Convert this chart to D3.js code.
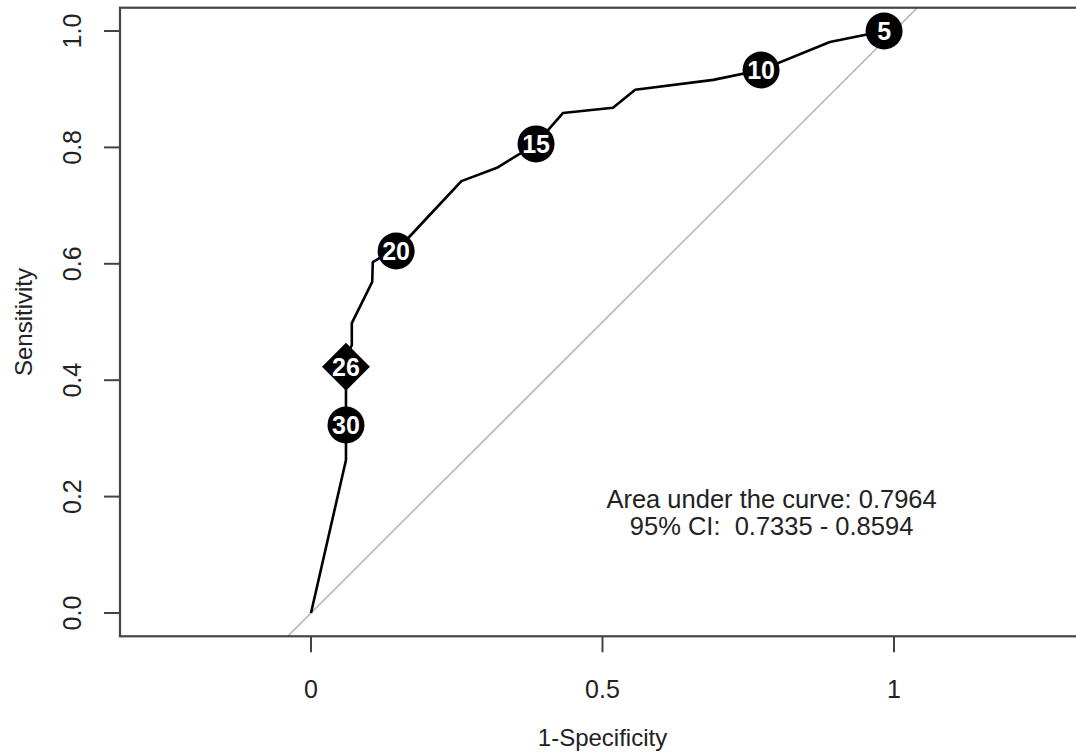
<!DOCTYPE html>
<html>
<head>
<meta charset="utf-8">
<script src="https://cdn.jsdelivr.net/npm/d3@7"></script>
<style>
  body { margin: 0; background: #fff; }
  svg { display: block; font-family: "Liberation Sans", Arial, sans-serif; }
  text { white-space: pre; }
</style>
</head>
<body>
<svg width="1076" height="755"></svg>
<script>
// ROC curve vertices (1-specificity, sensitivity)
var fpr = [0, 0.060, 0.060, 0.060, 0.060, 0.070, 0.070, 0.105, 0.106, 0.118, 0.146, 0.200, 0.258, 0.319, 0.386, 0.432, 0.518, 0.556, 0.690, 0.772, 0.890, 0.983];
var tpr = [0, 0.263, 0.323, 0.423, 0.440, 0.460, 0.498, 0.569, 0.603, 0.610, 0.622, 0.680, 0.742, 0.765, 0.806, 0.859, 0.868, 0.899, 0.916, 0.933, 0.981, 1.000];

// labelled cut-offs
var cutLabels = ["5", "10", "15", "20", "30"];
var cutX = [0.983, 0.772, 0.386, 0.146, 0.060];
var cutY = [1.000, 0.933, 0.806, 0.622, 0.323];

// best threshold (diamond)
var bestLabel = "26", bestX = 0.060, bestY = 0.423;

var xTicks = [0, 0.5, 1];
var xTickLabels = ["0", "0.5", "1"];
var yTicks = [0, 0.2, 0.4, 0.6, 0.8, 1.0];
var aucText = ["Area under the curve: 0.7964", "95% CI:  0.7335 - 0.8594"];

var svg = d3.select('svg');
var x = d3.scaleLinear().domain([0, 1]).range([311, 894]);
var y = d3.scaleLinear().domain([0, 1]).range([613, 31]);

// plot region (R adds 4% round the data range)
var pLeft = 120, pRight = 1086, pTop = y(1.04), pBottom = y(-0.04);

svg.append('clipPath').attr('id', 'plotclip')
    .append('rect').attr('x', pLeft).attr('y', pTop).attr('width', pRight - pLeft).attr('height', pBottom - pTop);

// diagonal reference line
svg.append('line')
    .attr('clip-path', 'url(#plotclip)')
    .attr('x1', x(-0.1)).attr('y1', y(-0.1))
    .attr('x2', x(1.2)).attr('y2', y(1.2))
    .attr('stroke', '#b4b4b4').attr('stroke-width', 1.5);

// box
svg.append('rect')
    .attr('x', pLeft).attr('y', pTop).attr('width', pRight - pLeft).attr('height', pBottom - pTop)
    .attr('fill', 'none').attr('stroke', '#444').attr('stroke-width', 2.2);

// ROC curve
var line = d3.line().x(function (d) { return x(d[0]); }).y(function (d) { return y(d[1]); });
svg.append('path')
    .datum(d3.zip(fpr, tpr))
    .attr('d', line)
    .attr('fill', 'none').attr('stroke', '#000').attr('stroke-width', 2.6)
    .attr('stroke-linejoin', 'round');

// y axis
var yAxis = svg.append('g');
yAxis.selectAll('line').data(yTicks).enter().append('line')
    .attr('x1', pLeft - 16).attr('x2', pLeft)
    .attr('y1', function (d) { return y(d); }).attr('y2', function (d) { return y(d); })
    .attr('stroke', '#444').attr('stroke-width', 2);
yAxis.selectAll('text').data(yTicks).enter().append('text')
    .attr('transform', function (d) { return 'translate(81,' + y(d) + ') rotate(-90)'; })
    .attr('text-anchor', 'middle')
    .attr('font-size', 25).attr('fill', '#222')
    .text(function (d) { return d3.format('.1f')(d); });

// x axis
var xAxis = svg.append('g');
xAxis.selectAll('line').data(xTicks).enter().append('line')
    .attr('x1', function (d) { return x(d); }).attr('x2', function (d) { return x(d); })
    .attr('y1', pBottom).attr('y2', pBottom + 16)
    .attr('stroke', '#444').attr('stroke-width', 2);
xAxis.selectAll('text').data(xTicks).enter().append('text')
    .attr('x', function (d) { return x(d); }).attr('y', 698)
    .attr('text-anchor', 'middle')
    .attr('font-size', 25).attr('fill', '#222')
    .text(function (d, i) { return xTickLabels[i]; });

// axis titles
svg.append('text')
    .attr('x', x(0.5)).attr('y', 746)
    .attr('text-anchor', 'middle').attr('font-size', 24).attr('fill', '#222')
    .text('1-Specificity');
svg.append('text')
    .attr('transform', 'translate(32,' + y(0.5) + ') rotate(-90)')
    .attr('text-anchor', 'middle').attr('font-size', 24).attr('fill', '#222')
    .text('Sensitivity');

// cut-off points
var pts = svg.append('g');
pts.selectAll('circle').data(cutLabels).enter().append('circle')
    .attr('cx', function (d, i) { return x(cutX[i]); })
    .attr('cy', function (d, i) { return y(cutY[i]); })
    .attr('r', 18.5).attr('fill', '#000');
pts.selectAll('text').data(cutLabels).enter().append('text')
    .attr('x', function (d, i) { return x(cutX[i]); })
    .attr('y', function (d, i) { return y(cutY[i]) + 9; })
    .attr('text-anchor', 'middle').attr('font-size', 25).attr('font-weight', 'bold')
    .attr('fill', '#fff')
    .text(function (d) { return d; });

// best threshold diamond
svg.append('path')
    .attr('d', d3.symbol().type(d3.symbolSquare).size(1150))
    .attr('transform', 'translate(' + x(bestX) + ',' + y(bestY) + ') rotate(45)')
    .attr('fill', '#000');
svg.append('text')
    .attr('x', x(bestX)).attr('y', y(bestY) + 9)
    .attr('text-anchor', 'middle').attr('font-size', 25).attr('font-weight', 'bold')
    .attr('fill', '#fff')
    .text(bestLabel);

// AUC annotation
svg.selectAll('text.auc').data(aucText).enter().append('text')
    .attr('class', 'auc')
    .attr('x', x(0.79))
    .attr('y', function (d, i) { return y(0.18) + i * 27; })
    .attr('text-anchor', 'middle').attr('font-size', 25.5).attr('fill', '#222')
    .text(function (d) { return d; });
</script>
</body>
</html>
